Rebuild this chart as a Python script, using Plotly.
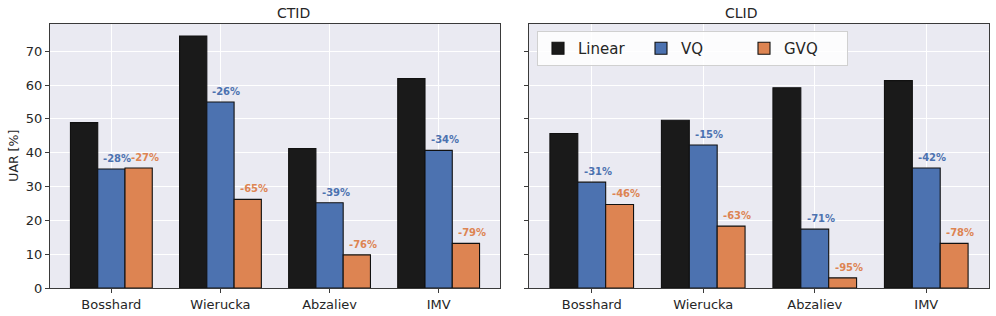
import plotly.graph_objects as go

categories = ["Bosshard", "Wierucka", "Abzaliev", "IMV"]
series = ["Linear", "VQ", "GVQ"]
colors = ["#1a1a1a", "#4c72b0", "#dd8452"]

ctid_linear = [48.9, 74.5, 41.2, 61.9]
ctid_vq = [35.2, 55.0, 25.2, 40.7]
ctid_gvq = [35.5, 26.2, 9.8, 13.2]
ctid_vq_pct = ["-28%", "-26%", "-39%", "-34%"]
ctid_gvq_pct = ["-27%", "-65%", "-76%", "-79%"]

clid_linear = [45.7, 49.6, 59.2, 61.3]
clid_vq = [31.3, 42.3, 17.4, 35.5]
clid_gvq = [24.7, 18.3, 3.0, 13.2]
clid_vq_pct = ["-31%", "-15%", "-71%", "-42%"]
clid_gvq_pct = ["-46%", "-63%", "-95%", "-78%"]

yticks = [0, 10, 20, 30, 40, 50, 60, 70]
panel_titles = ["CTID", "CLID"]

W, H = 996, 316
FONT = "DejaVu Sans"
TXT = "#262626"
SPINE = "#3a3a3a"

panels = [
    (ctid_linear, ctid_vq, ctid_gvq, ctid_vq_pct, ctid_gvq_pct),
    (clid_linear, clid_vq, clid_gvq, clid_vq_pct, clid_gvq_pct),
]
xidx = list(range(len(categories)))

fig = go.Figure()
annotations = []
for p, (lin, vq, gvq, vqp, gvqp) in enumerate(panels):
    xa = "x" if p == 0 else "x2"
    ya = "y" if p == 0 else "y2"
    for s, vals in enumerate([lin, vq, gvq]):
        fig.add_trace(go.Bar(
            x=xidx, y=vals, name=series[s], xaxis=xa, yaxis=ya,
            marker=dict(color=colors[s], line=dict(color="#111111", width=1.1)),
            showlegend=(p == 1), legendgroup=series[s],
            hoverinfo="skip",
        ))
    for s, (vals, labs) in enumerate([(vq, vqp), (gvq, gvqp)]):
        off = 0 if s == 0 else 0.25
        for i, (v, t) in enumerate(zip(vals, labs)):
            annotations.append(dict(
                x=i + off, y=v, xref=xa, yref=ya, text="<b>%s</b>" % t,
                showarrow=False, yanchor="bottom", xanchor="center",
                xshift=6, yshift=3,
                font=dict(family=FONT, size=10, color=colors[s + 1]),
            ))

dom_left = [50 / W, 500 / W]
dom_right = [529 / W, 989 / W]
ydom = [(H - 288) / H, (H - 23.5) / H]

axis_common = dict(
    range=[-0.5625, 3.5625], tickmode="array", tickvals=xidx, ticktext=categories,
    showgrid=True, gridcolor="white", gridwidth=1, zeroline=False,
    showline=True, mirror=True, linecolor=SPINE, linewidth=1.2,
    ticks="outside", ticklen=4, tickcolor=SPINE, tickwidth=1,
    tickfont=dict(family=FONT, size=13, color=TXT),
)
yaxis_common = dict(
    range=[0, 78.2], tickmode="array", tickvals=yticks,
    showgrid=True, gridcolor="white", gridwidth=1, zeroline=False,
    showline=True, mirror=True, linecolor=SPINE, linewidth=1.2,
    ticks="outside", ticklen=4, tickcolor=SPINE, tickwidth=1,
    tickfont=dict(family=FONT, size=13, color=TXT), domain=ydom,
)

fig.update_layout(
    width=W, height=H,
    margin=dict(l=0, r=0, t=0, b=0, autoexpand=False),
    paper_bgcolor="white", plot_bgcolor="#eaeaf2",
    barmode="group", bargap=0.25, bargroupgap=0,
    font=dict(family=FONT, color=TXT),
    xaxis=dict(domain=dom_left, anchor="y", **axis_common),
    xaxis2=dict(domain=dom_right, anchor="y2", **axis_common),
    yaxis=dict(anchor="x", title=dict(text="UAR [%]", font=dict(family=FONT, size=12.5, color=TXT), standoff=4), **yaxis_common),
    yaxis2=dict(anchor="x2", showticklabels=False, **yaxis_common),
    legend=dict(
        orientation="h", x=537 / W, y=(H - 31) / H, xanchor="left", yanchor="top",
        bgcolor="rgba(255,255,255,0.85)", bordercolor="#d0d0d0", borderwidth=1,
        font=dict(family=FONT, size=15, color=TXT),
        itemwidth=30, entrywidth=58, entrywidthmode="pixels",
        traceorder="normal", tracegroupgap=0,
    ),
    annotations=annotations + [
        dict(x=(dom_left[0] + dom_left[1]) / 2, y=(H - 13) / H, xref="paper", yref="paper",
             text=panel_titles[0], showarrow=False, yanchor="middle",
             font=dict(family=FONT, size=14, color=TXT)),
        dict(x=(dom_right[0] + dom_right[1]) / 2, y=(H - 13) / H, xref="paper", yref="paper",
             text=panel_titles[1], showarrow=False, yanchor="middle",
             font=dict(family=FONT, size=14, color=TXT)),
    ],
)

fig.write_html("out.html", config={"displayModeBar": False},
               post_script="document.body.style.margin='0';document.body.style.overflow='hidden';")
